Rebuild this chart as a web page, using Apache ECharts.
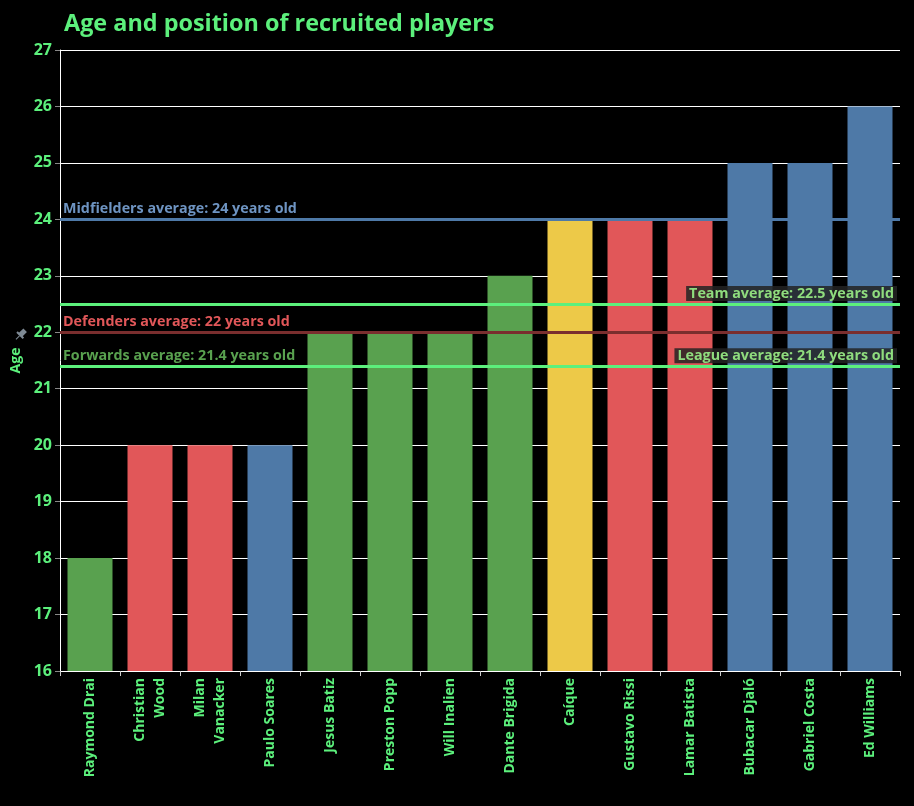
<!DOCTYPE html>
<html><head><meta charset="utf-8">
<script src="https://cdn.jsdelivr.net/npm/echarts@6/dist/echarts.min.js"></script>
<style>html,body{margin:0;padding:0;background:#000;}#c{width:914px;height:806px;}</style>
</head><body><div id="c"></div>
<script>
const players = ["Raymond Drai","Christian\nWood","Milan\nVanacker","Paulo Soares","Jesus Batiz","Preston Popp","Will Inalien","Dante Brigida","Caíque","Gustavo Rissi","Lamar Batista","Bubacar Djaló","Gabriel Costa","Ed Williams"];
const ages = [18,20,20,20,22,22,22,23,24,24,24,25,25,26];
const positions = ["Forward","Defender","Defender","Midfielder","Forward","Forward","Forward","Forward","Goalkeeper","Defender","Defender","Midfielder","Midfielder","Midfielder"];
const yTicks = [16,17,18,19,20,21,22,23,24,25,26,27];
const averages = {midfielders:24, team:22.5, defenders:22, forwards:21.4, league:21.4};

const colorMap = {Forward:"#59A14F", Defender:"#E15759", Midfielder:"#4E79A7", Goalkeeper:"#EDC948"};
const txt = "#5CF07C";
const font = "Open Sans";

const chart = echarts.init(document.getElementById('c'));
const boxLabel = (text, pos) => ({
  show:true, formatter:text, position:pos, color:"#8FDC7E", fontFamily:font, fontWeight:"bold", fontSize:14.3,
  backgroundColor:"rgba(35,35,35,0.85)", padding:[1,3,0,3], distance:3
});
const plainLabel = (text, color) => ({
  show:true, formatter:text, position:"insideStartTop", color:color, fontFamily:font, fontWeight:"bold", fontSize:14.3, distance:3
});
chart.setOption({
  backgroundColor:"#000",
  animation:false,
  title:{text:"Age and position of recruited players", left:59, top:8,
    textStyle:{color:txt, fontFamily:font, fontWeight:"bold", fontSize:23.4}},
  grid:{left:60, right:14, top:50, bottom:135, containLabel:false, outerBoundsMode:"none"},
  graphic:[
    {type:"group", left:11, top:327, rotation:-Math.PI/4, children:[
      {type:"rect", shape:{x:-2, y:0, width:5, height:7}, style:{fill:"#7f8a95"}},
      {type:"rect", shape:{x:-4, y:6, width:9, height:2}, style:{fill:"#7f8a95"}},
      {type:"line", shape:{x1:0.5, y1:8, x2:0.5, y2:13}, style:{stroke:"#7f8a95", lineWidth:1}}
    ]}
  ],
  xAxis:{type:"category", data:players,
    axisLine:{lineStyle:{color:"#fff", width:1}},
    axisTick:{show:true, alignWithLabel:false, lineStyle:{color:"#ccc"}, length:5},
    axisLabel:{rotate:90, color:txt, fontFamily:font, fontWeight:"bold", fontSize:14, interval:0, margin:7, lineHeight:20}},
  yAxis:{type:"value", min:16, max:27, interval:1, name:"Age", nameLocation:"middle", nameGap:36,
    nameTextStyle:{color:txt, fontFamily:font, fontWeight:"bold", fontSize:14},
    axisLine:{show:true, lineStyle:{color:"#fff"}},
    axisTick:{show:true, lineStyle:{color:"#888"}, length:5},
    splitLine:{lineStyle:{color:"#fff", width:1}},
    axisLabel:{color:txt, fontFamily:font, fontWeight:"bold", fontSize:16, margin:8,
      formatter:v=>yTicks.includes(v)?String(v):""}},
  series:[{
    type:"bar", barCategoryGap:"25%",
    data:ages.map((v,i)=>({value:v, itemStyle:{color:colorMap[positions[i]]}})),
    markLine:{symbol:"none", silent:true, z:10,
      data:[
        {yAxis:averages.midfielders, lineStyle:{color:"#4E79A7", width:3, type:"solid"},
          label:plainLabel("Midfielders average: "+averages.midfielders+" years old", "#6E94C2")},
        {yAxis:averages.team, lineStyle:{color:"#5CF07C", width:3, type:"solid"},
          label:boxLabel("Team average: "+averages.team+" years old","insideEndTop")},
        {yAxis:averages.defenders, lineStyle:{color:"#7A2E2E", width:3, type:"solid"},
          label:plainLabel("Defenders average: "+averages.defenders+" years old", "#E15759")},
        {yAxis:averages.forwards, lineStyle:{color:"#5CF07C", width:3, type:"solid"},
          label:plainLabel("Forwards average: "+averages.forwards+" years old", "#59A14F")},
        {yAxis:averages.league, lineStyle:{color:"#5CF07C", width:3, type:"solid"},
          label:boxLabel("League average: "+averages.league+" years old","insideEndTop")}
      ]}
  }]
});
</script></body></html>
